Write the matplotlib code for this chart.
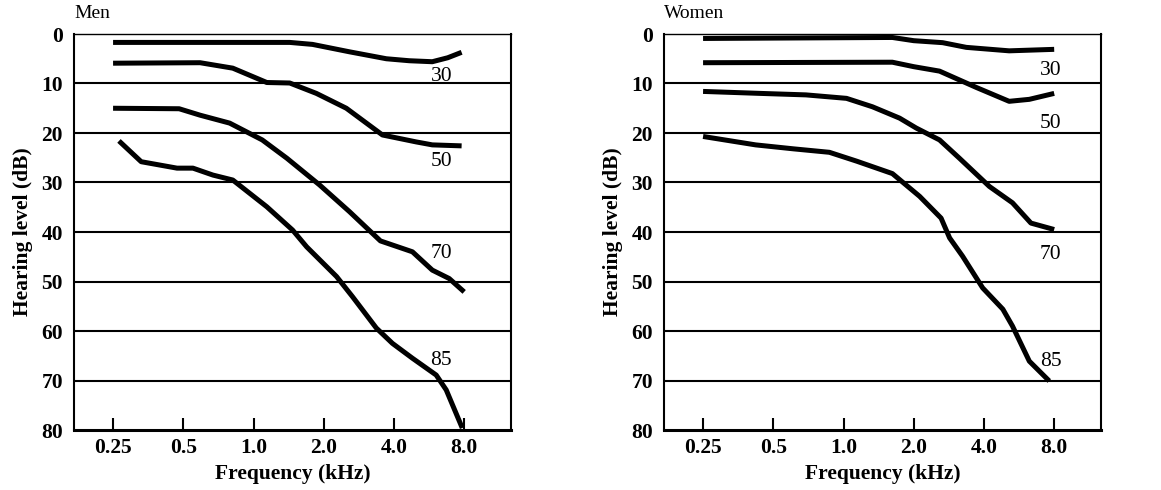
import matplotlib
matplotlib.use("Agg")
import matplotlib.pyplot as plt

plt.rcParams['font.family'] = ['Liberation Serif', 'DejaVu Serif']

# ---- data (frequency in kHz, hearing level in dB) ----
men_30_f = [0.25, 0.5, 1.0, 1.43, 1.79, 2.58, 3.71, 4.65, 5.84, 6.8, 7.8]
men_30_db = [1.7, 1.7, 1.7, 1.7, 2.1, 3.6, 5.0, 5.4, 5.6, 4.8, 3.7]
men_50_f = [0.25, 0.59, 0.815, 1.14, 1.43, 1.86, 2.5, 3.57, 4.98, 5.84, 7.8]
men_50_db = [5.9, 5.8, 6.9, 9.8, 9.9, 12.0, 15.0, 20.4, 21.8, 22.4, 22.6]
men_70_f = [0.25, 0.48, 0.59, 0.79, 1.09, 1.39, 1.92, 2.58, 3.5, 4.8, 5.84, 6.9, 8.0]
men_70_db = [15.0, 15.1, 16.4, 18.0, 21.4, 25.1, 30.5, 35.9, 41.8, 44.0, 47.7, 49.4, 52.1]
men_85_f = [0.265, 0.33, 0.47, 0.55, 0.67, 0.815, 1.14, 1.47, 1.69, 2.27, 2.66,
            3.36, 3.94, 4.8, 6.07, 6.7, 7.85]
men_85_db = [21.6, 25.8, 27.1, 27.1, 28.5, 29.5, 34.9, 39.6, 43.0, 49.0, 53.1,
             59.4, 62.5, 65.5, 68.9, 71.9, 79.6]

women_30_f = [0.25, 1.62, 2.0, 2.66, 3.36, 5.13, 8.0]
women_30_db = [0.9, 0.7, 1.35, 1.75, 2.7, 3.4, 3.1]
women_50_f = [0.25, 1.62, 2.0, 2.58, 3.71, 5.13, 6.26, 8.0]
women_50_db = [5.8, 5.7, 6.6, 7.5, 10.8, 13.6, 13.2, 12.0]
women_70_f = [0.25, 0.44, 0.69, 1.03, 1.33, 1.74, 2.05, 2.58, 3.14, 4.22, 5.3, 6.36, 8.0]
women_70_db = [11.6, 12.0, 12.3, 13.0, 14.7, 17.0, 19.0, 21.4, 25.1, 30.8, 34.1, 38.2, 39.5]
women_85_f = [0.25, 0.42, 0.61, 0.87, 1.14, 1.62, 2.12, 2.62, 2.85, 3.24, 3.95,
              4.82, 5.3, 6.26, 7.62]
women_85_db = [20.7, 22.4, 23.2, 23.9, 25.7, 28.2, 32.8, 37.2, 41.2, 44.9, 51.3,
               55.6, 59.0, 66.1, 70.1]

curve_labels = ["30", "50", "70", "85"]
men_label_f = 6.38
men_label_db = [8.5, 25.8, 44.3, 65.9]
women_label_f = 7.74
women_label_db = [7.3, 18.0, 44.6, 66.1]

xticks = [0.25, 0.5, 1.0, 2.0, 4.0, 8.0]
xtick_labels = ["0.25", "0.5", "1.0", "2.0", "4.0", "8.0"]
yticks = [0, 10, 20, 30, 40, 50, 60, 70, 80]

panels = [
    ("Men", [(men_30_f, men_30_db), (men_50_f, men_50_db), (men_70_f, men_70_db), (men_85_f, men_85_db)],
     men_label_f, men_label_db),
    ("Women", [(women_30_f, women_30_db), (women_50_f, women_50_db), (women_70_f, women_70_db),
               (women_85_f, women_85_db)],
     women_label_f, women_label_db),
]

fig = plt.figure(figsize=(11.61, 4.9), dpi=100)
lefts = [74 / 1161, 664 / 1161]
width = 437 / 1161
bottom = 1 - 430 / 490
height = 396 / 490

for (title, curves, lf, ldb), left in zip(panels, lefts):
    ax = fig.add_axes([left, bottom, width, height])
    ax.set_xscale('log', base=2)
    ax.set_xlim(0.17, 12.7)
    ax.set_ylim(80, 0)
    for y in yticks[1:-1]:
        ax.axhline(y, color='black', lw=1.5, zorder=1)
    for f, db in curves:
        ax.plot(f, db, color='black', lw=3.6, solid_capstyle='butt', zorder=3)
    for lab, y in zip(curve_labels, ldb):
        ax.text(lf, y, lab, ha='center', va='center', fontsize=15.5, zorder=4)
    ax.set_xticks(xticks)
    ax.set_xticklabels(xtick_labels, fontsize=15.5, fontweight='bold')
    ax.xaxis.set_minor_locator(matplotlib.ticker.NullLocator())
    ax.set_yticks(yticks)
    ax.set_yticklabels([str(v) for v in yticks], fontsize=15.5, fontweight='bold')
    ax.tick_params(axis='x', direction='in', length=9, width=1.5, pad=6)
    ax.tick_params(axis='y', length=0, pad=8)
    ax.spines['bottom'].set_linewidth(2.2)
    ax.spines['left'].set_linewidth(1.5)
    ax.spines['right'].set_linewidth(1.5)
    ax.spines['top'].set_linewidth(1.0)
    ax.set_xlabel("Frequency (kHz)", fontsize=15.5, fontweight='bold', labelpad=4)
    ax.set_ylabel("Hearing level (dB)", fontsize=15.5, fontweight='bold', labelpad=6)
    ax.text(0, 1.03, title, transform=ax.transAxes, ha='left', va='bottom', fontsize=14)

fig.savefig("out.png", dpi=100)
